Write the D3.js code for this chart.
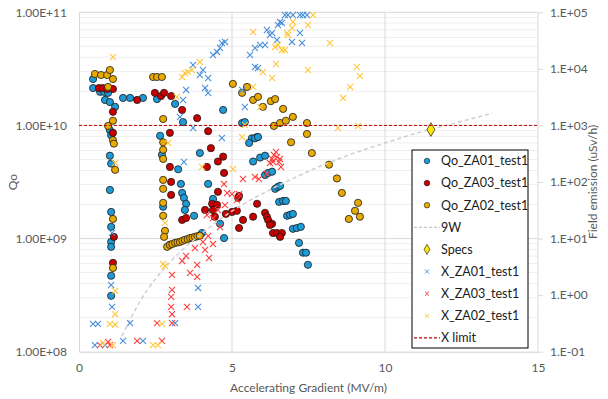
<!DOCTYPE html>
<html>
<head>
<meta charset="utf-8">
<script src="https://cdn.jsdelivr.net/npm/d3@7"></script>
<style>
  body { margin: 0; background: #fff; }
  svg { display: block; font-family: Lato, "Liberation Sans", sans-serif; }
</style>
</head>
<body>
<div id="chart"></div>
<script>
// [gradient MV/m, Qo]
const qoZA01 = [
  [0.46,2.57e10],[0.46,2.14e10],[0.69,1.98e10],[0.82,1.98e10],[0.95,1.94e10],[0.85,1.68e10],
  [1.01,1.61e10],[1.18,1.46e10],[1.01,9.1e9],[1.05,8.2e9],[1.01,5.4e9],[1.05,4.6e9],[1.01,2.69e9],
  [1.05,1.72e9],[1.05,1.27e9],[1.05,9.35e8],[1.05,8.45e8],[1.05,4.69e8],[1.05,3.12e8],
  [1.44,1.75e10],[1.67,1.75e10],[2.09,1.75e10],[2.55,1.71e10],[3.14,1.55e10],[3.40,1.07e10],
  [2.65,8.1e9],[2.71,5.5e9],[3.24,4.1e9],[3.33,3.04e9],[3.37,2.53e9],[3.43,2.29e9],[3.50,2.03e9],
  [3.46,1.79e9],[3.76,1.59e9],[2.75,1.91e9],[3.95,5.7e9],[4.22,3.04e9],[4.38,2.24e9],[4.02,1.12e9],
  [4.61,1.35e9],[4.74,1.01e9],[4.71,1.37e10],[5.33,1.05e10],[5.42,1.07e10],[5.65,7.7e9],[5.82,7.9e9],
  [5.56,7.0e9],[5.75,7.7e9],[5.85,7.9e9],[5.69,4.8e9],[5.92,5.2e9],[6.08,5.4e9],[6.08,3.65e9],
  [6.18,3.8e9],[6.31,3.9e9],[6.41,2.75e9],[6.50,2.86e9],[6.57,2.92e9],[6.54,2.11e9],[6.67,2.15e9],
  [6.76,2.15e9],[6.80,1.59e9],[6.90,1.62e9],[6.99,1.65e9],[6.99,1.22e9],[7.12,1.24e9],[7.25,1.27e9],
  [7.19,9.16e8],[7.32,7.5e8],[7.42,7.5e8],[7.48,5.86e8]
];
const qoZA03 = [
  [0.65,2.14e10],[0.78,2.14e10],[0.92,2.10e10],[1.11,2.10e10],[1.11,1.32e10],[1.11,8.6e9],
  [1.14,1.035e9],[1.11,6.1e8],[1.90,1.68e10],[2.48,1.94e10],[2.68,1.82e10],[2.78,1.94e10],
  [3.01,1.82e10],[3.37,1.37e10],[3.86,1.16e10],[2.97,8.6e9],[2.97,4.3e9],[3.01,3.17e9],[3.01,2.43e9],
  [3.37,1.46e9],[3.50,1.52e9],[2.97,8.8e8],[4.22,8.9e9],[4.31,6.3e9],[4.71,5.3e9],[4.54,4.8e9],
  [4.18,4.3e9],[4.74,3.8e9],[4.54,2.59e9],[4.35,2.03e9],[4.51,1.99e9],[4.38,1.79e9],[4.12,1.79e9],
  [4.44,1.56e9],[4.80,1.65e9],[5.00,1.72e9],[5.16,1.76e9],[5.20,2.29e9],[5.23,2.38e9],[5.82,2.03e9],
  [5.36,1.46e9],[5.69,1.56e9],[5.23,1.24e9],[6.08,1.69e9],[6.14,1.56e9],[6.18,1.46e9],[6.31,1.35e9],
  [6.24,1.32e9],[6.34,1.12e9],[6.47,1.12e9],[6.63,1.12e9],[6.57,1.035e9]
];
const qoZA02 = [
  [0.52,2.85e10],[0.72,2.79e10],[0.92,2.79e10],[1.01,3.09e10],[1.11,2.57e10],[0.95,2.19e10],
  [1.11,1.10e10],[0.95,9.9e9],[1.11,7.4e9],[1.14,6.9e9],[1.18,4.05e9],[1.11,1.49e9],[1.11,5.5e8],
  [2.42,2.68e10],[2.55,2.68e10],[2.71,2.68e10],[2.75,1.14e10],[2.75,7.1e9],[2.75,6.1e9],[2.75,5.06e9],
  [2.75,3.3e9],[2.75,2.75e9],[2.75,2.07e9],[2.75,1.59e9],[2.81,1.17e9],[2.78,1.035e9],
  [2.88,8.45e8],[2.97,8.8e8],[3.05,8.95e8],[3.14,9.16e8],[3.22,9.25e8],[3.30,9.35e8],[3.38,9.55e8],
  [3.46,9.75e8],[3.55,9.9e8],[3.63,1.01e9],[3.71,1.02e9],[3.79,1.035e9],[3.87,1.05e9],[3.95,1.06e9],
  [5.03,2.33e10],[5.33,1.94e10],[5.49,2.19e10],[5.69,1.68e10],[5.85,1.79e10],[6.01,1.46e10],
  [6.27,1.64e10],[6.41,1.71e10],[6.67,1.40e10],[6.37,9.9e9],[6.57,1.05e10],[6.76,1.10e10],
  [6.99,1.19e10],[7.45,1.05e10],[7.45,8.4e9],[6.93,7.1e9],[7.61,5.7e9],[8.17,4.5e9],[8.43,3.4e9],
  [8.59,2.53e9],[9.12,2.07e9],[9.02,1.76e9],[9.18,1.56e9],[8.82,1.49e9]
];
const power9W = [
  [1.4,1.37e8],[2,2.8e8],[3,6.3e8],[4,1.1e9],[5,1.75e9],[6,2.5e9],[7,3.4e9],
  [8,4.5e9],[9,5.7e9],[10,7.0e9],[11,8.5e9],[12,1.0e10],[13.5,1.28e10]
];
const specs = [[11.5,9.2e9]];
// [gradient MV/m, field emission uSv/h]
const xZA01 = [
  [3.73,1.17e4],[3.50,4.24e3],[3.40,2.82e3],[3.30,1.41e3],[3.73,902],[4.05,9.55e3],[4.22,6.9e3],
  [4.12,4.6e3],[4.22,3.74e3],[3.95,7.8e3],[4.38,1.76e4],[4.51,1.99e4],[4.61,2.34e4],[4.67,2.87e4],
  [4.77,2.99e4],[5.59,1.76e4],[5.75,2.34e4],[5.92,2.64e4],[6.08,2.64e4],[6.14,4.86e4],[6.24,3.97e4],
  [6.31,4.31e4],[6.47,3.24e4],[6.50,5.97e4],[6.57,6.75e4],[6.63,6.5e4],[6.73,8.96e4],[6.83,8.96e4],
  [6.99,8.96e4],[7.22,8.96e4],[7.32,8.96e4],[7.45,8.96e4],[6.96,2.99e4],[7.22,4.31e4],[7.29,2.87e4],
  [5.75,1.08e4],[5.85,1.035e4],[5.33,4.24e3],[5.42,2.12e3],[4.67,600],[3.43,226],[1.08,12.6],
  [1.05,1.51],[1.08,0.62],[0.46,0.31],[0.62,0.31],[1.67,0.32],[1.44,0.155],[2.09,0.155],[3.14,0.32],
  [3.89,0.62],[3.89,1.34],[0.52,0.131],[0.85,0.131]
];
const xZA03 = [
  [3.50,4.93],[3.37,4.02],[3.79,6.8],[3.86,3.42],[3.04,2.28],[3.04,1.24],[3.01,0.93],[3.01,0.62],
  [3.04,0.46],[3.53,0.62],[3.04,0.32],[2.55,0.32],[1.90,0.155],[2.71,0.155],[3.63,2.47],[3.86,2.1],
  [0.69,0.131],[0.95,0.149],[1.01,0.131],[5.36,113],[5.75,123],[5.88,113],[6.14,139],[6.31,255],
  [6.37,300],[6.47,277],[6.57,255],[6.34,226],[6.24,217],[6.60,184],[6.44,339],[6.54,226],
  [4.74,92],[4.84,64],[5.00,61],[5.23,61],[5.16,48],[4.77,39],[4.54,32],[4.38,23],[4.18,26],
  [4.05,8.7],[4.22,11.1],[4.38,8.0],[4.12,6.3],[4.25,4.54],[4.61,16]
];
const xZA02 = [
  [1.11,1.62e4],[3.37,7.2e3],[3.46,8.45e3],[3.56,8.8e3],[3.69,9.55e3],[3.20,3.18e3],[3.95,1.32e4],
  [5.69,4.48e4],[6.41,2.44e4],[6.50,2.64e4],[6.63,2.16e4],[6.73,2.16e4],[6.80,4.31e4],[6.83,3.97e4],
  [6.96,5.28e4],[6.99,6.75e4],[7.48,5.97e4],[7.65,8.96e4],[8.20,2.87e4],[7.48,9.55e3],[6.01,8.8e3],
  [6.31,6.9e3],[5.69,4.79e3],[9.08,1.08e4],[9.18,7.5e3],[8.86,4.79e3],[8.63,3.05e3],[8.46,902],
  [9.12,977],[5.92,2.12e3],[5.42,1.02e3],[5.33,625],[6.44,1.22e4],[5.03,170],[4.02,184],[2.91,490],
  [2.81,18.9],[2.81,3.28],[1.18,217],[1.18,1.19],[1.18,0.46],[1.01,0.31],[1.18,0.30],[1.11,0.131],
  [2.75,3.56],[2.71,0.31],[2.42,0.131],[2.58,0.131],[0.78,0.143]
];
const xLimit = 1000;

const xTicks = [0, 5, 10, 15];
const qoTicks = [1e8, 1e9, 1e10, 1e11];
const feTicks = [1e-1, 1e0, 1e1, 1e2, 1e3, 1e4, 1e5];

const legendItems = [
  { label: 'Qo_ZA01_test1', kind: 'circle', color: '#1e9bd7' },
  { label: 'Qo_ZA03_test1', kind: 'circle', color: '#c80000' },
  { label: 'Qo_ZA02_test1', kind: 'circle', color: '#e8aa00' },
  { label: '9W', kind: 'dash', color: '#c8c8c8' },
  { label: 'Specs', kind: 'diamond', color: '#ffe600' },
  { label: 'X_ZA01_test1', kind: 'x', color: '#4a90d9' },
  { label: 'X_ZA03_test1', kind: 'x', color: '#ff4040' },
  { label: 'X_ZA02_test1', kind: 'x', color: '#ffc83d' },
  { label: 'X limit', kind: 'dash', color: '#c00000' }
];

const width = 608, height = 399;
const margin = { top: 12.3, right: 70, bottom: 47.3, left: 79 };

const svg = d3.select('#chart').append('svg')
  .attr('width', width)
  .attr('height', height);

const xScale = d3.scaleLinear().domain([0, 15]).range([margin.left, width - margin.right]);
const yQo = d3.scaleLog().domain([1e8, 1e11]).range([height - margin.bottom, margin.top]);
const yFe = d3.scaleLog().domain([1e-1, 1e5]).range([height - margin.bottom, margin.top]);

// minor gridlines (log subdivisions)
const minor = [];
for (let e = 8; e < 11; e++) for (let m = 2; m <= 9; m++) minor.push(m * Math.pow(10, e));
svg.append('g').selectAll('line').data(minor).enter().append('line')
  .attr('x1', xScale(0)).attr('x2', xScale(15))
  .attr('y1', d => yQo(d)).attr('y2', d => yQo(d))
  .attr('stroke', '#efefef').attr('stroke-width', 1);

// major gridlines
svg.append('g').selectAll('line').data(qoTicks.slice(1)).enter().append('line')
  .attr('x1', xScale(0)).attr('x2', xScale(15))
  .attr('y1', d => yQo(d)).attr('y2', d => yQo(d))
  .attr('stroke', '#d9d9d9').attr('stroke-width', 1);
svg.append('g').selectAll('line').data(xTicks.slice(1)).enter().append('line')
  .attr('x1', d => xScale(d)).attr('x2', d => xScale(d))
  .attr('y1', yQo(1e8)).attr('y2', yQo(1e11))
  .attr('stroke', '#d9d9d9').attr('stroke-width', 1);

// axes
const xAxis = svg.append('g')
  .attr('transform', `translate(0,${height - margin.bottom})`)
  .call(d3.axisBottom(xScale).tickValues(xTicks).tickSize(0).tickPadding(12));
const yAxisL = svg.append('g')
  .attr('transform', `translate(${margin.left},0)`)
  .call(d3.axisLeft(yQo).tickValues(qoTicks).tickSize(0).tickPadding(12)
    .tickFormat(d => d.toExponential(2).toUpperCase().replace('E+', 'E+').replace(/E\+(\d)$/, 'E+0$1')));
const yAxisR = svg.append('g')
  .attr('transform', `translate(${width - margin.right},0)`)
  .call(d3.axisRight(yFe).tickValues(feTicks).tickSize(5).tickPadding(7)
    .tickFormat(d => {
      const e = Math.round(Math.log10(d));
      return '1.E' + (e < 0 ? '-' : '+') + String(Math.abs(e)).padStart(2, '0');
    }));
[xAxis, yAxisL, yAxisR].forEach(a => {
  a.selectAll('.domain').attr('stroke', '#d9d9d9');
  a.selectAll('.tick line').attr('stroke', '#d9d9d9');
  a.selectAll('text').attr('fill', '#595959').style('font-size', '12px')
    .style('font-family', 'Lato, "Liberation Sans", sans-serif');
});
yAxisR.select('.domain').remove();
xAxis.select('.domain').attr('stroke', '#d0d0d0');

// axis titles
svg.append('text')
  .attr('x', (xScale(0) + xScale(15)) / 2).attr('y', 392)
  .attr('text-anchor', 'middle').attr('fill', '#595959').style('font-size', '12px')
  .text('Accelerating Gradient (MV/m)');
svg.append('text')
  .attr('transform', `translate(17,${(margin.top + height - margin.bottom) / 2}) rotate(-90)`)
  .attr('text-anchor', 'middle').attr('fill', '#595959').style('font-size', '12px')
  .text('Qo');
svg.append('text')
  .attr('transform', `translate(597,${(margin.top + height - margin.bottom) / 2}) rotate(-90)`)
  .attr('text-anchor', 'middle').attr('fill', '#595959').style('font-size', '12px')
  .text('Field emission (uSv/h)');

// Qo series (circles)
function drawCircles(data, color) {
  svg.append('g').selectAll('circle').data(data).enter().append('circle')
    .attr('cx', d => xScale(d[0]))
    .attr('cy', d => yQo(d[1]))
    .attr('r', 3.6)
    .attr('fill', color)
    .attr('stroke', '#1a1a1a')
    .attr('stroke-width', 0.8);
}
drawCircles(qoZA01, legendItems[0].color);
drawCircles(qoZA03, legendItems[1].color);
drawCircles(qoZA02, legendItems[2].color);

// 9W curve
svg.append('path')
  .datum(power9W)
  .attr('fill', 'none')
  .attr('stroke', '#cfcfcf')
  .attr('stroke-width', 1.5)
  .attr('stroke-dasharray', '4,3')
  .attr('d', d3.line().curve(d3.curveMonotoneX).x(d => xScale(d[0])).y(d => yQo(d[1])));

// Specs
svg.append('g').selectAll('path').data(specs).enter().append('path')
  .attr('transform', d => `translate(${xScale(d[0])},${yQo(d[1])})`)
  .attr('d', d3.symbol(d3.symbolDiamond, 55))
  .attr('fill', legendItems[4].color)
  .attr('stroke', '#333').attr('stroke-width', 0.8);

// field emission series (x markers, right axis)
function drawCrosses(data, color) {
  svg.append('g').selectAll('path').data(data).enter().append('path')
    .attr('transform', d => `translate(${xScale(d[0])},${yFe(d[1])})`)
    .attr('d', d3.symbol(d3.symbolX, 26))
    .attr('fill', 'none')
    .attr('stroke', color)
    .attr('stroke-width', 1.1);
}
drawCrosses(xZA01, legendItems[5].color);
drawCrosses(xZA03, legendItems[6].color);
drawCrosses(xZA02, legendItems[7].color);

// X limit
svg.append('line')
  .attr('x1', xScale(0)).attr('x2', xScale(15))
  .attr('y1', yFe(xLimit)).attr('y2', yFe(xLimit))
  .attr('stroke', '#c00000').attr('stroke-width', 1)
  .attr('stroke-dasharray', '3,2');

// legend
const legend = svg.append('g').attr('transform', 'translate(412,150)');
legend.append('rect')
  .attr('width', 116).attr('height', 198)
  .attr('fill', '#fff').attr('stroke', '#000').attr('stroke-width', 1);
const rows = legend.selectAll('.row').data(legendItems).enter().append('g')
  .attr('class', 'row')
  .attr('transform', (d, i) => `translate(0,${11 + i * 22.1})`);
rows.each(function (d) {
  const g = d3.select(this);
  if (d.kind === 'circle') {
    g.append('circle').attr('cx', 15).attr('cy', 0).attr('r', 2.8)
      .attr('fill', d.color).attr('stroke', '#1a1a1a').attr('stroke-width', 0.6);
  } else if (d.kind === 'dash') {
    g.append('line').attr('x1', 2).attr('x2', 28).attr('y1', 0).attr('y2', 0)
      .attr('stroke', d.color).attr('stroke-width', 1.2).attr('stroke-dasharray', '3,2');
  } else if (d.kind === 'diamond') {
    g.append('path').attr('transform', 'translate(15,0)')
      .attr('d', d3.symbol(d3.symbolDiamond, 30))
      .attr('fill', d.color).attr('stroke', '#333').attr('stroke-width', 0.7);
  } else {
    g.append('path').attr('transform', 'translate(15,0)')
      .attr('d', d3.symbol(d3.symbolX, 12))
      .attr('fill', 'none').attr('stroke', d.color).attr('stroke-width', 1);
  }
  g.append('text').attr('x', 29).attr('y', 0).attr('dy', '0.35em')
    .attr('fill', '#1a1a1a').style('font-size', '12.5px').text(d.label);
});
</script>
</body>
</html>
